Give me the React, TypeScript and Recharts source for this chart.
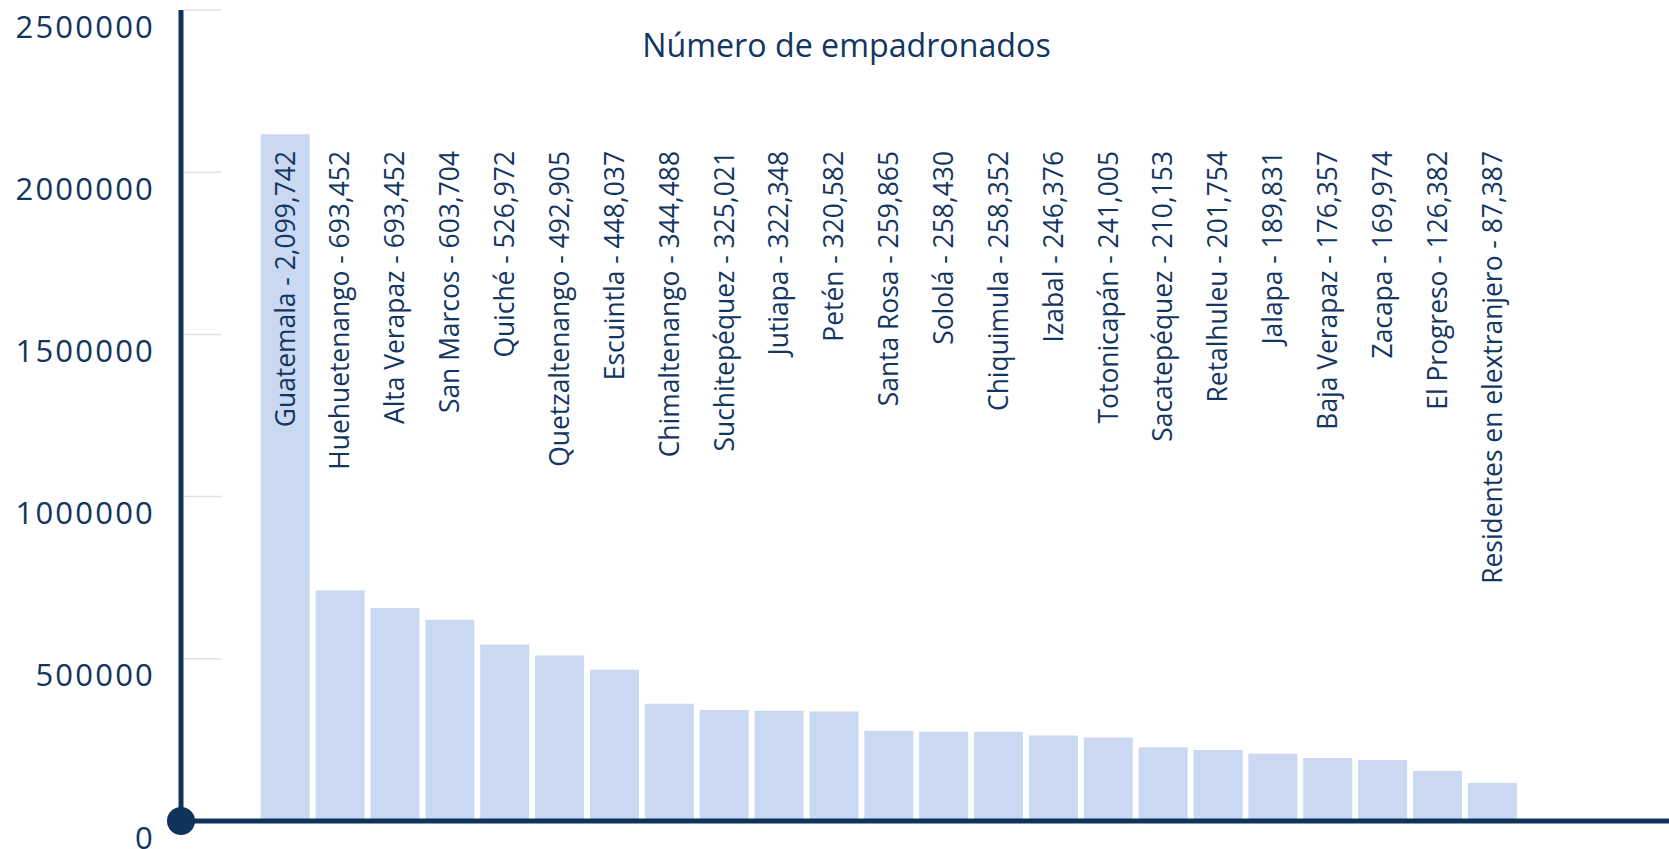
import React from 'react';
import { BarChart, Bar, XAxis, YAxis, LabelList, Customized } from 'recharts';

const categories = [
  'Guatemala', 'Huehuetenango', 'Alta Verapaz', 'San Marcos', 'Quiché', 'Quetzaltenango',
  'Escuintla', 'Chimaltenango', 'Suchitepéquez', 'Jutiapa', 'Petén', 'Santa Rosa', 'Sololá',
  'Chiquimula', 'Izabal', 'Totonicapán', 'Sacatepéquez', 'Retalhuleu', 'Jalapa', 'Baja Verapaz',
  'Zacapa', 'El Progreso', 'Residentes en elextranjero',
];

// bar heights
const barValues = [
  2117000, 710500, 656300, 620200, 544100, 510200, 466100, 361300, 341900, 339800, 337600,
  277200, 275000, 275000, 263600, 257500, 227300, 219000, 207200, 194000, 187800, 153900, 117000,
];

// values printed in the labels
const labelValues = [
  2099742, 693452, 693452, 603704, 526972, 492905, 448037, 344488, 325021, 322348, 320582,
  259865, 258430, 258352, 246376, 241005, 210153, 201754, 189831, 176357, 169974, 126382, 87387,
];

const yTicks = [0, 500000, 1000000, 1500000, 2000000, 2500000];
const title = 'Número de empadronados';

const NAVY = '#0f335b';
const TEXT = '#12365f';
const BAR = '#cad8f2';
const FONT = '"Open Sans", sans-serif';

const data = categories.map((name, i) => ({
  name,
  value: barValues[i],
  label: `${name} - ${labelValues[i].toLocaleString('en-US')}`,
}));

const YTick = (props: any) => {
  const { x, y, payload } = props;
  const ax = x + 26;
  return (
    <g>
      {payload.value !== 0 && (
        <line x1={ax + 3} x2={ax + 40} y1={y} y2={y} stroke="#e2e2e2" strokeWidth={1.5} />
      )}
      {payload.value === 0 && <circle cx={ax} cy={y} r={14} fill={NAVY} />}
      <text
        x={x}
        y={y + 27.5}
        textAnchor="end"
        fill={TEXT}
        fontFamily={FONT}
        fontSize={31}
        fontWeight={500}
        letterSpacing={2.2}
      >
        {String(payload.value)}
      </text>
    </g>
  );
};

const RotLabel = (props: any) => {
  const { x, width, value } = props;
  const cx = x + width / 2 + 9.3;
  const ty = 151;
  return (
    <text
      x={cx}
      y={ty}
      transform={`rotate(-90 ${cx} ${ty})`}
      textAnchor="end"
      fill={TEXT}
      fontFamily={FONT}
      fontSize={26.4}
      fontWeight={500}
    >
      {value}
    </text>
  );
};

const Title = () => (
  <text x={846.5} y={57} textAnchor="middle" fill={TEXT} fontFamily={FONT} fontSize={32.2} fontWeight={500}>
    {title}
  </text>
);

export default function App() {
  return (
    <div style={{ position: 'absolute', left: 0, top: 0, width: 1669, height: 849, background: '#fff' }}>
      <BarChart
        width={1669}
        height={849}
        data={data}
        margin={{ top: 10, right: 0, bottom: 0, left: 0 }}
        barCategoryGap="5%"
      >
        <XAxis
          dataKey="name"
          tick={false}
          tickLine={false}
          height={28}
          padding={{ left: 77, right: 149 }}
          axisLine={{ stroke: NAVY, strokeWidth: 5 }}
        />
        <YAxis
          width={181}
          domain={[0, 2500000]}
          ticks={yTicks}
          interval={0}
          tickSize={0}
          tickMargin={26}
          tickLine={false}
          tick={<YTick />}
          axisLine={{ stroke: NAVY, strokeWidth: 5 }}
        />
        <Bar dataKey="value" fill={BAR} isAnimationActive={false}>
          <LabelList dataKey="label" content={<RotLabel />} />
        </Bar>
        <Customized component={Title} />
      </BarChart>
    </div>
  );
}
